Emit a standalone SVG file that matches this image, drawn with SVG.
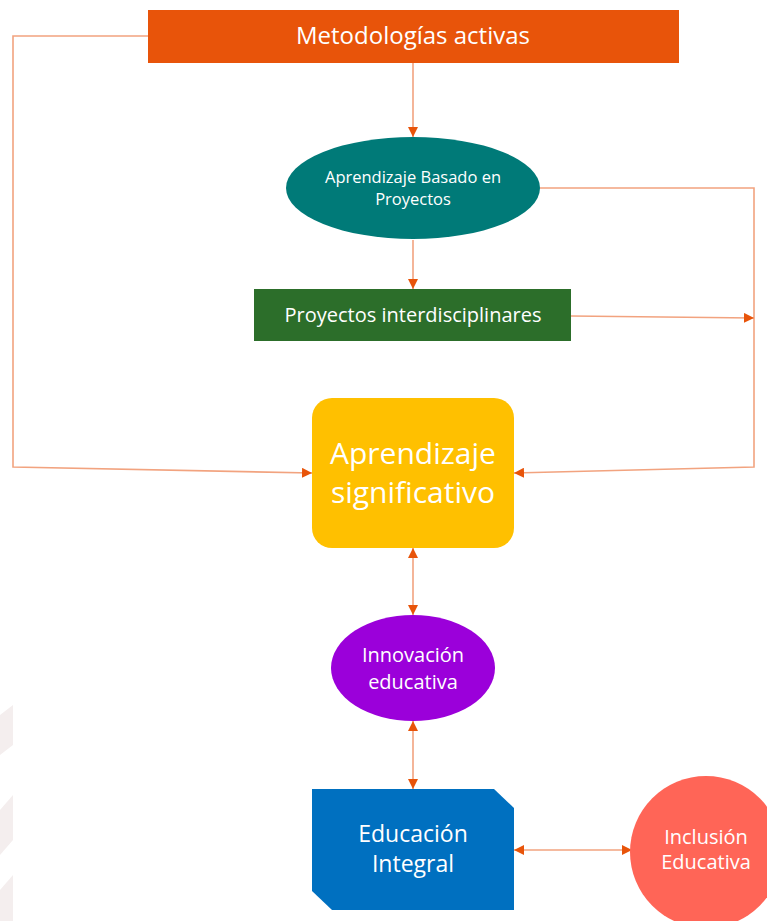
<svg xmlns="http://www.w3.org/2000/svg" width="767" height="921" viewBox="0 0 767 921">
<style>
.t{font-family:"Open Sans","Noto Sans","Liberation Sans",sans-serif;fill:#ffffff;text-anchor:middle}
.c{fill:none;stroke:#F2A37F;stroke-width:1.6}
</style>
<defs>
<marker id="ah" viewBox="0 0 10 10" refX="10" refY="5" markerWidth="10" markerHeight="10" markerUnits="userSpaceOnUse" orient="auto-start-reverse">
<path d="M0,0 L10,5 L0,10 Z" fill="#E8540A"/>
</marker>
</defs>
<rect width="767" height="921" fill="#ffffff"/>
<g id="watermark" fill="#F4EEEE">
<polygon points="0,715 13,705 13,745 0,755"/>
<polygon points="0,810 13,795 13,840 0,855"/>
<polygon points="0,890 13,875 13,921 0,921"/>
</g>
<g id="connectors">
<polyline class="c" points="148,36 13,36 13,467 312,473" marker-end="url(#ah)"/>
<line class="c" x1="413" y1="63" x2="413" y2="137" marker-end="url(#ah)"/>
<polyline class="c" points="540,188 754,188 754,467 514,473" marker-end="url(#ah)"/>
<line class="c" x1="413" y1="240" x2="413" y2="289" marker-end="url(#ah)"/>
<line class="c" x1="571" y1="316" x2="754" y2="318" marker-end="url(#ah)"/>
<line class="c" x1="413" y1="548" x2="413" y2="615" marker-start="url(#ah)" marker-end="url(#ah)"/>
<line class="c" x1="413" y1="721" x2="413" y2="789" marker-start="url(#ah)" marker-end="url(#ah)"/>
<line class="c" x1="514" y1="850" x2="632" y2="850" marker-start="url(#ah)" marker-end="url(#ah)"/>
</g>
<g id="metodologias">
<rect x="148" y="10" width="531" height="53" fill="#E8540A"/>
<text class="t" x="413" y="44" font-size="24">Metodologías activas</text>
</g>
<g id="abp">
<ellipse cx="413" cy="188" rx="127" ry="51" fill="#007A78"/>
<text class="t" x="413" y="183" font-size="16.5">Aprendizaje Basado en</text>
<text class="t" x="413" y="205" font-size="16.5">Proyectos</text>
</g>
<g id="interdisciplinares">
<rect x="254" y="289" width="317" height="52" fill="#2C6E2A"/>
<text class="t" x="413" y="322" font-size="20">Proyectos interdisciplinares</text>
</g>
<g id="significativo">
<rect x="312" y="398" width="202" height="150" rx="20" fill="#FFC000"/>
<text class="t" x="413" y="464" font-size="30">Aprendizaje</text>
<text class="t" x="413" y="503" font-size="30">significativo</text>
</g>
<g id="innovacion">
<ellipse cx="413" cy="668" rx="82" ry="53" fill="#9B00DA"/>
<text class="t" x="413" y="662" font-size="20">Innovación</text>
<text class="t" x="413" y="689" font-size="20">educativa</text>
</g>
<g id="integral">
<polygon points="312,789 494,789 514,808 514,910 332,910 312,891" fill="#0070C0"/>
<text class="t" x="413" y="842" font-size="23">Educación</text>
<text class="t" x="413" y="872" font-size="23">Integral</text>
</g>
<g id="inclusion">
<circle cx="706" cy="852" r="76" fill="#FF6557"/>
<text class="t" x="706" y="844" font-size="20">Inclusión</text>
<text class="t" x="706" y="869" font-size="20">Educativa</text>
</g>
</svg>
